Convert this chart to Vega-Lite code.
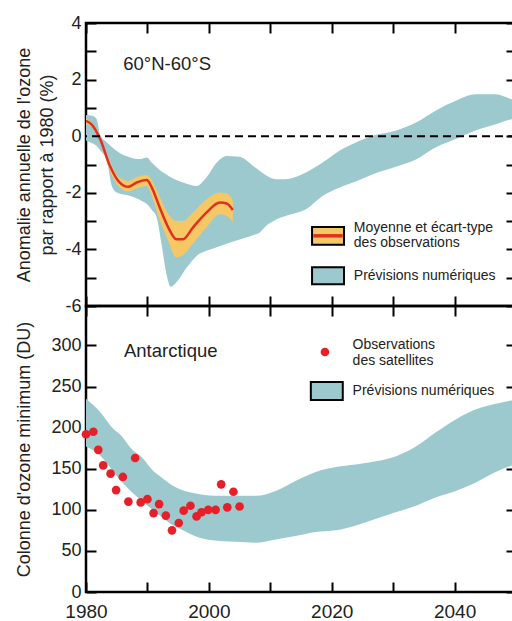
{
  "$schema": "https://vega.github.io/schema/vega-lite/v6.json",
  "padding": {"left": 13, "top": 12, "right": 0, "bottom": 0},
  "background": "white",
  "spacing": 0,
  "bounds": "flush",
  "config": {
    "view": {"stroke": "black", "strokeWidth": 2.5},
    "font": "Liberation Sans",
    "axis": {
      "domain": false, "grid": false, "tickColor": "black", "tickWidth": 2, "tickSize": -10,
      "labelFont": "Liberation Sans", "labelColor": "#222", "labelFontSize": 18,
      "titleFont": "Liberation Sans", "titleColor": "#222", "titleFontSize": 18, "titleFontWeight": "normal",
      "labelFlush": false, "labelOverlap": false, "zindex": 1
    }
  },
  "datasets": {
    "top_model": [
      {"year": 1980.0, "lo": -0.15, "hi": 0.75},
      {"year": 1981.0, "lo": -0.25, "hi": 0.72},
      {"year": 1981.7, "lo": -0.34, "hi": 0.62},
      {"year": 1982.3, "lo": -0.5, "hi": 0.05},
      {"year": 1983.4, "lo": -0.87, "hi": -0.22},
      {"year": 1984.2, "lo": -1.76, "hi": -0.38},
      {"year": 1985.0, "lo": -1.99, "hi": -0.52},
      {"year": 1987.2, "lo": -2.11, "hi": -0.75},
      {"year": 1988.8, "lo": -2.25, "hi": -0.81},
      {"year": 1989.9, "lo": -2.4, "hi": -0.75},
      {"year": 1990.7, "lo": -2.6, "hi": -0.93},
      {"year": 1991.5, "lo": -2.87, "hi": -1.1},
      {"year": 1992.3, "lo": -3.82, "hi": -1.25},
      {"year": 1993.1, "lo": -4.88, "hi": -1.35},
      {"year": 1993.8, "lo": -5.32, "hi": -1.45},
      {"year": 1994.7, "lo": -5.17, "hi": -1.55},
      {"year": 1996.4, "lo": -4.64, "hi": -1.68},
      {"year": 1998.0, "lo": -4.23, "hi": -1.76},
      {"year": 1999.6, "lo": -4.05, "hi": -1.46},
      {"year": 2001.3, "lo": -3.92, "hi": -0.93},
      {"year": 2002.9, "lo": -3.8, "hi": -0.7},
      {"year": 2005.0, "lo": -3.65, "hi": -0.73},
      {"year": 2007.2, "lo": -3.5, "hi": -1.05},
      {"year": 2008.3, "lo": -3.4, "hi": -1.23},
      {"year": 2009.3, "lo": -3.17, "hi": -1.38},
      {"year": 2010.9, "lo": -2.95, "hi": -1.52},
      {"year": 2012.5, "lo": -2.82, "hi": -1.52},
      {"year": 2013.1, "lo": -2.78, "hi": -1.5},
      {"year": 2015.8, "lo": -2.58, "hi": -1.28},
      {"year": 2018.5, "lo": -2.11, "hi": -0.93},
      {"year": 2021.2, "lo": -1.82, "hi": -0.52},
      {"year": 2023.9, "lo": -1.6, "hi": -0.22},
      {"year": 2026.6, "lo": -1.35, "hi": 0.01},
      {"year": 2030.4, "lo": -1.08, "hi": 0.19},
      {"year": 2033.7, "lo": -0.82, "hi": 0.48},
      {"year": 2036.9, "lo": -0.4, "hi": 0.9},
      {"year": 2040.2, "lo": -0.1, "hi": 1.25},
      {"year": 2043.4, "lo": 0.2, "hi": 1.48},
      {"year": 2046.7, "lo": 0.42, "hi": 1.48},
      {"year": 2049.3, "lo": 0.6, "hi": 1.31},
      {"year": 2050.0, "lo": 0.62, "hi": 1.28}
    ],
    "top_obs": [
      {"year": 1980.0, "mean": 0.54, "lo": 0.45, "hi": 0.62},
      {"year": 1980.9, "mean": 0.42, "lo": 0.33, "hi": 0.5},
      {"year": 1982.3, "mean": -0.1, "lo": -0.2, "hi": 0.0},
      {"year": 1983.9, "mean": -1.05, "lo": -1.23, "hi": -0.9},
      {"year": 1985.5, "mean": -1.64, "lo": -1.81, "hi": -1.48},
      {"year": 1986.9, "mean": -1.79, "lo": -1.95, "hi": -1.58},
      {"year": 1988.2, "mean": -1.64, "lo": -1.85, "hi": -1.45},
      {"year": 1989.9, "mean": -1.55, "lo": -1.76, "hi": -1.37},
      {"year": 1990.7, "mean": -1.81, "lo": -2.1, "hi": -1.55},
      {"year": 1992.0, "mean": -2.52, "lo": -2.95, "hi": -2.15},
      {"year": 1993.4, "mean": -3.23, "lo": -3.7, "hi": -2.75},
      {"year": 1994.7, "mean": -3.64, "lo": -4.29, "hi": -2.99},
      {"year": 1995.8, "mean": -3.64, "lo": -4.2, "hi": -3.0},
      {"year": 1997.4, "mean": -3.23, "lo": -3.8, "hi": -2.7},
      {"year": 1999.6, "mean": -2.7, "lo": -3.23, "hi": -2.23},
      {"year": 2001.8, "mean": -2.34, "lo": -2.76, "hi": -1.99},
      {"year": 2002.9, "mean": -2.38, "lo": -2.82, "hi": -2.02},
      {"year": 2003.9, "mean": -2.61, "lo": -3.02, "hi": -2.25}
    ],
    "top_boxes": [
      {"kind": "obs", "x1": 2016.8, "x2": 2022.0, "y1": -3.21, "y2": -3.84},
      {"kind": "model", "x1": 2016.8, "x2": 2022.0, "y1": -4.63, "y2": -5.23}
    ],
    "top_stripe": [{"x1": 2017.0, "x2": 2021.8, "y": -3.52}],
    "top_texts": [
      {"year": 2023.6, "value": -3.23, "text": "Moyenne et écart-type"},
      {"year": 2023.6, "value": -3.79, "text": "des observations"},
      {"year": 2023.6, "value": -4.93, "text": "Prévisions numériques"}
    ],
    "top_region": [{"year": 1993.2, "value": 2.55, "text": "60°N-60°S"}],
    "bot_model": [
      {"year": 1980.0, "lo": 177, "hi": 235},
      {"year": 1982.3, "lo": 166, "hi": 219},
      {"year": 1984.4, "lo": 147, "hi": 199},
      {"year": 1985.5, "lo": 137, "hi": 192},
      {"year": 1987.7, "lo": 120, "hi": 172},
      {"year": 1988.8, "lo": 113, "hi": 166},
      {"year": 1991.0, "lo": 99, "hi": 147},
      {"year": 1992.0, "lo": 93, "hi": 141},
      {"year": 1994.2, "lo": 81, "hi": 129},
      {"year": 1995.3, "lo": 77, "hi": 125},
      {"year": 1998.5, "lo": 66, "hi": 119},
      {"year": 2001.8, "lo": 62, "hi": 117},
      {"year": 2004.5, "lo": 61, "hi": 117},
      {"year": 2007.6, "lo": 60, "hi": 117},
      {"year": 2010.9, "lo": 64, "hi": 123},
      {"year": 2014.1, "lo": 68, "hi": 135},
      {"year": 2017.4, "lo": 73, "hi": 146},
      {"year": 2020.7, "lo": 75, "hi": 152},
      {"year": 2023.9, "lo": 81, "hi": 155},
      {"year": 2027.2, "lo": 89, "hi": 159},
      {"year": 2030.4, "lo": 97, "hi": 165},
      {"year": 2033.7, "lo": 105, "hi": 177},
      {"year": 2036.9, "lo": 115, "hi": 194},
      {"year": 2040.2, "lo": 123, "hi": 210},
      {"year": 2043.4, "lo": 133, "hi": 222},
      {"year": 2046.7, "lo": 146, "hi": 229},
      {"year": 2049.3, "lo": 154, "hi": 233},
      {"year": 2050.0, "lo": 156, "hi": 234}
    ],
    "bot_obs": [
      {"year": 1980.0, "du": 192},
      {"year": 1981.2, "du": 195},
      {"year": 1982.0, "du": 173},
      {"year": 1982.8, "du": 154},
      {"year": 1984.0, "du": 144},
      {"year": 1984.9, "du": 124},
      {"year": 1986.0, "du": 140},
      {"year": 1986.9, "du": 110},
      {"year": 1988.0, "du": 163},
      {"year": 1988.9, "du": 109},
      {"year": 1990.0, "du": 113},
      {"year": 1991.0, "du": 96},
      {"year": 1991.9, "du": 107},
      {"year": 1993.0, "du": 93},
      {"year": 1994.0, "du": 75},
      {"year": 1995.1, "du": 84},
      {"year": 1995.9, "du": 99},
      {"year": 1997.0, "du": 105},
      {"year": 1998.0, "du": 92},
      {"year": 1998.8, "du": 97},
      {"year": 1999.9, "du": 100},
      {"year": 2001.1, "du": 100},
      {"year": 2002.0, "du": 131},
      {"year": 2003.0, "du": 103},
      {"year": 2004.0, "du": 122},
      {"year": 2005.0, "du": 104}
    ],
    "bot_box": [{"x1": 2016.6, "x2": 2021.8, "y1": 255.5, "y2": 233.6}],
    "bot_dot": [{"year": 2018.9, "du": 292}],
    "bot_texts": [
      {"year": 2023.4, "value": 300.5, "text": "Observations"},
      {"year": 2023.4, "value": 281, "text": "des satellites"},
      {"year": 2023.4, "value": 244.5, "text": "Prévisions numériques"}
    ],
    "bot_region": [{"year": 1993.8, "value": 293, "text": "Antarctique"}]
  },
  "vconcat": [
    {
      "width": 430,
      "height": 283,
      "layer": [
        {
          "data": {"name": "top_model"},
          "mark": {"type": "area", "color": "#9bc9cd", "interpolate": "monotone", "opacity": 1},
          "encoding": {
            "x": {"field": "year", "type": "quantitative", "scale": {"domain": [1980, 2050], "nice": false},
              "axis": {"orient": "bottom", "values": [1980, 1990, 2000, 2010, 2020, 2030, 2040, 2050], "labels": false, "title": null}},
            "y": {"field": "lo", "type": "quantitative", "scale": {"domain": [-6, 4], "nice": false},
              "axis": {"orient": "left", "values": [-6, -5, -4, -3, -2, -1, 0, 1, 2, 3, 4],
                "labelExpr": "datum.value % 2 == 0 ? replace(datum.label, '−', '-') : ''",
                "labelPadding": 15,
                "title": ["Anomalie annuelle de l'ozone", "par rapport à 1980 (%)"],
                "titleX": -62, "titleBaseline": "middle", "titleLineHeight": 23}},
            "y2": {"field": "hi"}
          }
        },
        {
          "data": {"name": "top_obs"},
          "mark": {"type": "area", "color": "#f6c865", "interpolate": "monotone", "opacity": 1},
          "encoding": {
            "x": {"field": "year", "type": "quantitative",
              "axis": {"orient": "top", "values": [1980, 1990, 2000, 2010, 2020, 2030, 2040, 2050], "labels": false, "title": null}},
            "y": {"field": "lo", "type": "quantitative",
              "axis": {"orient": "right", "values": [-6, -5, -4, -3, -2, -1, 0, 1, 2, 3, 4], "labels": false, "title": null}},
            "y2": {"field": "hi"}
          }
        },
        {
          "data": {"name": "top_obs"},
          "mark": {"type": "line", "color": "#e2301f", "strokeWidth": 2.5, "interpolate": "monotone"},
          "encoding": {
            "x": {"field": "year", "type": "quantitative", "axis": null},
            "y": {"field": "mean", "type": "quantitative", "axis": null}
          }
        },
        {
          "data": {"values": [{}]},
          "mark": {"type": "rule", "color": "black", "strokeWidth": 2, "strokeDash": [8, 5]},
          "encoding": {"y": {"datum": 0, "type": "quantitative", "axis": null}}
        },
        {
          "data": {"name": "top_boxes"},
          "mark": {"type": "rect", "stroke": "black", "strokeWidth": 2},
          "encoding": {
            "x": {"field": "x1", "type": "quantitative", "axis": null},
            "x2": {"field": "x2"},
            "y": {"field": "y1", "type": "quantitative", "axis": null},
            "y2": {"field": "y2"},
            "fill": {"field": "kind", "type": "nominal", "scale": {"domain": ["obs", "model"], "range": ["#f6c865", "#9bc9cd"]}, "legend": null}
          }
        },
        {
          "data": {"name": "top_stripe"},
          "mark": {"type": "rule", "color": "#e2301f", "strokeWidth": 3.5},
          "encoding": {
            "x": {"field": "x1", "type": "quantitative", "axis": null},
            "x2": {"field": "x2"},
            "y": {"field": "y", "type": "quantitative", "axis": null}
          }
        },
        {
          "data": {"name": "top_texts"},
          "mark": {"type": "text", "align": "left", "baseline": "middle", "fontSize": 14, "color": "#222", "font": "Liberation Sans"},
          "encoding": {
            "x": {"field": "year", "type": "quantitative", "axis": null},
            "y": {"field": "value", "type": "quantitative", "axis": null},
            "text": {"field": "text"}
          }
        },
        {
          "data": {"name": "top_region"},
          "mark": {"type": "text", "align": "center", "baseline": "middle", "fontSize": 18.5, "color": "#222", "font": "Liberation Sans"},
          "encoding": {
            "x": {"field": "year", "type": "quantitative", "axis": null},
            "y": {"field": "value", "type": "quantitative", "axis": null},
            "text": {"field": "text"}
          }
        }
      ],
      "resolve": {"axis": {"x": "independent", "y": "independent"}}
    },
    {
      "width": 430,
      "height": 286,
      "layer": [
        {
          "data": {"name": "bot_model"},
          "mark": {"type": "area", "color": "#9bc9cd", "interpolate": "monotone", "opacity": 1},
          "encoding": {
            "x": {"field": "year", "type": "quantitative", "scale": {"domain": [1980, 2050], "nice": false},
              "axis": {"orient": "bottom", "values": [1980, 1990, 2000, 2010, 2020, 2030, 2040, 2050], "format": "d",
                "labelExpr": "datum.value % 20 == 0 ? datum.label : ''", "labelFontSize": 19, "labelPadding": 20, "title": null}},
            "y": {"field": "lo", "type": "quantitative", "scale": {"domain": [0, 348], "nice": false},
              "axis": {"orient": "left", "values": [0, 50, 100, 150, 200, 250, 300], "labelPadding": 15,
                "title": "Colonne d'ozone minimum (DU)", "titleX": -62, "titleBaseline": "middle"}},
            "y2": {"field": "hi"}
          }
        },
        {
          "data": {"name": "bot_obs"},
          "mark": {"type": "circle", "color": "#e61f29", "size": 75, "opacity": 1},
          "encoding": {
            "x": {"field": "year", "type": "quantitative",
              "axis": {"orient": "top", "values": [1980, 1990, 2000, 2010, 2020, 2030, 2040, 2050], "labels": false, "title": null}},
            "y": {"field": "du", "type": "quantitative",
              "axis": {"orient": "right", "values": [0, 50, 100, 150, 200, 250, 300], "labels": false, "title": null}}
          }
        },
        {
          "data": {"name": "bot_box"},
          "mark": {"type": "rect", "stroke": "black", "strokeWidth": 2, "fill": "#9bc9cd"},
          "encoding": {
            "x": {"field": "x1", "type": "quantitative", "axis": null},
            "x2": {"field": "x2"},
            "y": {"field": "y1", "type": "quantitative", "axis": null},
            "y2": {"field": "y2"}
          }
        },
        {
          "data": {"name": "bot_dot"},
          "mark": {"type": "circle", "color": "#e61f29", "size": 75, "opacity": 1},
          "encoding": {
            "x": {"field": "year", "type": "quantitative", "axis": null},
            "y": {"field": "du", "type": "quantitative", "axis": null}
          }
        },
        {
          "data": {"name": "bot_texts"},
          "mark": {"type": "text", "align": "left", "baseline": "middle", "fontSize": 14, "color": "#222", "font": "Liberation Sans"},
          "encoding": {
            "x": {"field": "year", "type": "quantitative", "axis": null},
            "y": {"field": "value", "type": "quantitative", "axis": null},
            "text": {"field": "text"}
          }
        },
        {
          "data": {"name": "bot_region"},
          "mark": {"type": "text", "align": "center", "baseline": "middle", "fontSize": 18.5, "color": "#222", "font": "Liberation Sans"},
          "encoding": {
            "x": {"field": "year", "type": "quantitative", "axis": null},
            "y": {"field": "value", "type": "quantitative", "axis": null},
            "text": {"field": "text"}
          }
        }
      ],
      "resolve": {"axis": {"x": "independent", "y": "independent"}}
    }
  ]
}
